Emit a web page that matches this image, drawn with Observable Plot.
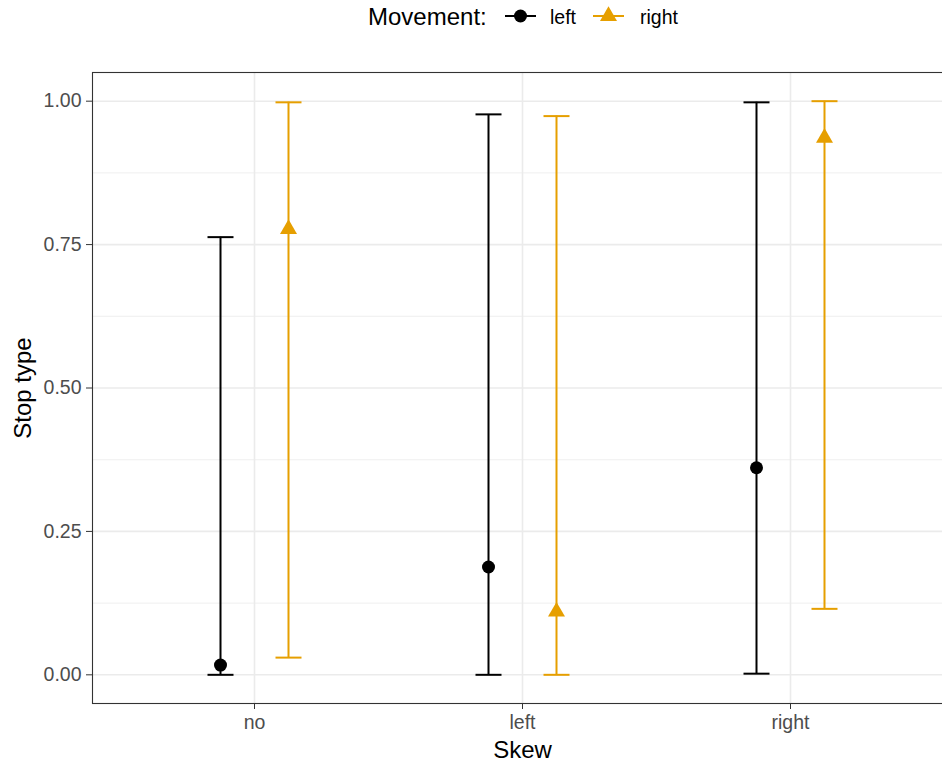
<!DOCTYPE html>
<html><head><meta charset="utf-8">
<script src="https://cdn.jsdelivr.net/npm/d3@7"></script>
<script src="https://cdn.jsdelivr.net/npm/@observablehq/plot@0.6"></script>
<style>
body{margin:0;background:#fff;font-family:"Liberation Sans",Arial,sans-serif;overflow:hidden;}
#legend{display:block;}
#chart svg{display:block;}
</style></head><body>
<svg id="legend" width="942" height="40" font-family="Liberation Sans, Arial, sans-serif"></svg>
<div id="chart"></div>
<script>
const skew = ["no", "left", "right"];
const movement = ["left", "right"];
const colors = ["#000000", "#E69F00"];
const symbols = ["circle", "triangle"];
const meanLeft = [0.017, 0.188, 0.361];
const lowLeft = [0.000, 0.000, 0.002];
const highLeft = [0.763, 0.977, 0.998];
const meanRight = [0.777, 0.110, 0.936];
const lowRight = [0.030, 0.000, 0.115];
const highRight = [0.998, 0.974, 1.000];
const yTicks = [0, 0.25, 0.5, 0.75, 1];
const yMinor = [0.125, 0.375, 0.625, 0.875];
const dodge = [-34, 34];

const series = [
  skew.map((s, i) => ({skew: s, movement: "left", mean: meanLeft[i], lo: lowLeft[i], hi: highLeft[i]})),
  skew.map((s, i) => ({skew: s, movement: "right", mean: meanRight[i], lo: lowRight[i], hi: highRight[i]}))
];

const cap = {draw(ctx) { ctx.moveTo(-13, 0); ctx.lineTo(13, 0); }};

const seriesMarks = series.flatMap((data, k) => [
  Plot.ruleX(data, {x: "skew", y1: "lo", y2: "hi", stroke: colors[k], strokeWidth: 2, dx: dodge[k]}),
  Plot.dot(data, {x: "skew", y: "lo", symbol: cap, stroke: colors[k], fill: "none", strokeWidth: 2, dx: dodge[k]}),
  Plot.dot(data, {x: "skew", y: "hi", symbol: cap, stroke: colors[k], fill: "none", strokeWidth: 2, dx: dodge[k]}),
  Plot.dot(data, {x: "skew", y: "mean", symbol: symbols[k], fill: colors[k], stroke: "none", r: k === 0 ? 6.5 : 6.3, dx: dodge[k]})
]);

const chart = Plot.plot({
  width: 942, height: 723,
  marginLeft: 92, marginRight: -10, marginTop: 32, marginBottom: 60,
  style: {fontFamily: "Liberation Sans, Arial, sans-serif", fontSize: "19.5px", background: "#fff", overflow: "hidden"},
  x: {type: "point", domain: skew, padding: 0.6, label: null},
  y: {domain: [-0.05, 1.05], label: null},
  marks: [
    Plot.gridY(yMinor, {stroke: "#ebebeb", strokeOpacity: 1, strokeWidth: 0.8}),
    Plot.gridY(yTicks, {stroke: "#ebebeb", strokeOpacity: 1, strokeWidth: 1.6}),
    Plot.gridX(skew, {stroke: "#ebebeb", strokeOpacity: 1, strokeWidth: 1.6}),
    Plot.axisY(yTicks, {tickFormat: d3.format(".2f"), tickSize: 6, tickPadding: 5, stroke: "#333", fill: "#4d4d4d", fontSize: 19.5, label: null}),
    Plot.axisX(skew, {tickSize: 6, tickPadding: 6, stroke: "#333", fill: "#4d4d4d", fontSize: 19.5, label: null}),
    Plot.text(["Stop type"], {text: d => d, frameAnchor: "left", dx: -69, rotate: -90, textAnchor: "middle", lineAnchor: "middle", fontSize: 24, fill: "#000"}),
    Plot.text(["Skew"], {text: d => d, frameAnchor: "bottom", dy: 47, textAnchor: "middle", lineAnchor: "middle", fontSize: 24, fill: "#000"}),
    ...seriesMarks,
    Plot.frame({stroke: "#333", strokeWidth: 1.1})
  ]
});
document.getElementById("chart").appendChild(chart);

// legend
const lg = d3.select("#legend");
lg.append("text").attr("x", 368).attr("y", 17).attr("dy", "0.35em").attr("font-size", 24).attr("fill", "#000").text("Movement:");
const keyX = [505, 593];
const labX = [550, 640];
movement.forEach((m, k) => {
  lg.append("line").attr("x1", keyX[k]).attr("x2", keyX[k] + 31).attr("y1", 16).attr("y2", 16)
    .attr("stroke", colors[k]).attr("stroke-width", 2);
  lg.append("path").attr("transform", `translate(${keyX[k] + 15.5},16)`)
    .attr("d", d3.symbol(k === 0 ? d3.symbolCircle : d3.symbolTriangle, k === 0 ? Math.PI * 6.5 * 6.5 : Math.PI * 6.3 * 6.3)())
    .attr("fill", colors[k]);
  lg.append("text").attr("x", labX[k]).attr("y", 17).attr("dy", "0.35em").attr("font-size", 19.5).attr("fill", "#000").text(m);
});
</script>
</body></html>
